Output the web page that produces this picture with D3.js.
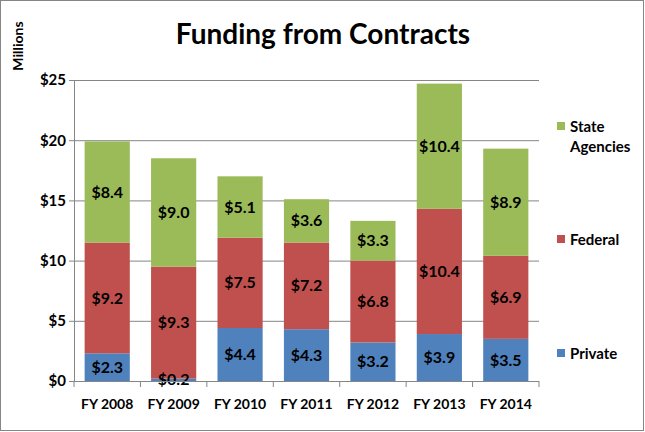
<!DOCTYPE html>
<html><head><meta charset="utf-8">
<script src="https://cdn.jsdelivr.net/npm/d3@7"></script>
<style>body{margin:0;background:#fff}text{font-family:"Lato","Open Sans",sans-serif;font-weight:bold}</style>
</head><body><svg id="c" width="645" height="432"></svg>
<script>
const categories = ["FY 2008","FY 2009","FY 2010","FY 2011","FY 2012","FY 2013","FY 2014"];
const privateVals = [2.3,0.2,4.4,4.3,3.2,3.9,3.5];
const federalVals = [9.2,9.3,7.5,7.2,6.8,10.4,6.9];
const stateVals = [8.4,9.0,5.1,3.6,3.3,10.4,8.9];
const seriesNames = ["Private","Federal","State Agencies"];
const colors = ["#4F81BD","#C0504D","#9BBB59"];
const yTicks = [0,5,10,15,20,25];

(function(){
const svg = d3.select("#c");
svg.append("rect").attr("x",0.5).attr("y",0.5).attr("width",643).attr("height",430).attr("fill","#fff").attr("stroke","#868686");

const pl=74, pr=539, pt=80, pb=381;
const x = d3.scaleBand().domain(categories).range([pl,pr]).paddingInner(0.32).paddingOuter(0.16);
const y = d3.scaleLinear().domain([0,25]).range([pb,pt]);

svg.append("g").selectAll("line").data(yTicks.slice(1)).join("line")
  .attr("x1",pl).attr("x2",pr).attr("y1",d=>y(d)+0.5).attr("y2",d=>y(d)+0.5).attr("stroke","#868686");

const data = categories.map((c,i)=>({cat:c, Private:privateVals[i], Federal:federalVals[i], "State Agencies":stateVals[i]}));
const stacked = d3.stack().keys(seriesNames)(data);

const g = svg.append("g");
stacked.forEach((s,si)=>{
  g.append("g").selectAll("rect").data(s).join("rect")
    .attr("x",d=>x(d.data.cat)).attr("width",x.bandwidth())
    .attr("y",d=>y(d[1])).attr("height",d=>y(d[0])-y(d[1]))
    .attr("fill",colors[si]);
});

const yAxis = svg.append("g").attr("transform",`translate(${pl},0)`)
  .call(d3.axisLeft(y).tickValues(yTicks).tickFormat(d=>"$"+d).tickSize(5).tickSizeOuter(0));
yAxis.select(".domain").attr("stroke","#868686");
yAxis.selectAll(".tick line").attr("stroke","#868686");
yAxis.selectAll(".tick text").attr("font-size",15).attr("fill","#000").attr("x",-8);

const xAxis = svg.append("g").attr("transform",`translate(0,${pb})`)
  .call(d3.axisBottom(x).tickSize(0).tickSizeOuter(0));
xAxis.select(".domain").attr("stroke","#868686").attr("d",`M${pl},0.5H${pr}`);
xAxis.selectAll(".tick text").attr("font-size",14).attr("fill","#000").attr("dy",0).attr("y",28);
const bounds = [pl].concat(categories.map(c=>x(c)+x.bandwidth()+x.step()*x.paddingInner()/2));
bounds[bounds.length-1]=pr;
svg.append("g").selectAll("line").data(bounds).join("line")
  .attr("x1",d=>d).attr("x2",d=>d).attr("y1",pb).attr("y2",pb+6).attr("stroke","#868686");

stacked.forEach((s,si)=>{
  g.append("g").selectAll("text").data(s).join("text")
    .attr("x",d=>x(d.data.cat)+x.bandwidth()/2)
    .attr("y",d=>(y(d[0])+y(d[1]))/2)
    .attr("dy","0.35em").attr("text-anchor","middle").attr("font-size",16).attr("fill","#000")
    .text(d=>"$"+(d[1]-d[0]).toFixed(1));
});

svg.append("text").attr("x",323).attr("y",44).attr("text-anchor","middle").attr("font-size",28).attr("fill","#000").text("Funding from Contracts");
svg.append("text").attr("transform","translate(23,46) rotate(-90)").attr("text-anchor","middle").attr("font-size",14).attr("fill","#000").text("Millions");

const legendItems = [{lines:["State","Agencies"],y:127,c:colors[2]},{lines:["Federal"],y:240,c:colors[1]},{lines:["Private"],y:354,c:colors[0]}];
const lg = svg.append("g");
legendItems.forEach(l=>{
  lg.append("rect").attr("x",557).attr("y",l.y-5).attr("width",8).attr("height",8).attr("fill",l.c);
  l.lines.forEach((t,i)=>{
    lg.append("text").attr("x",570).attr("y",l.y+i*20).attr("dy","0.35em").attr("font-size",15).attr("fill","#000").text(t);
  });
});
})();
</script></body></html>
